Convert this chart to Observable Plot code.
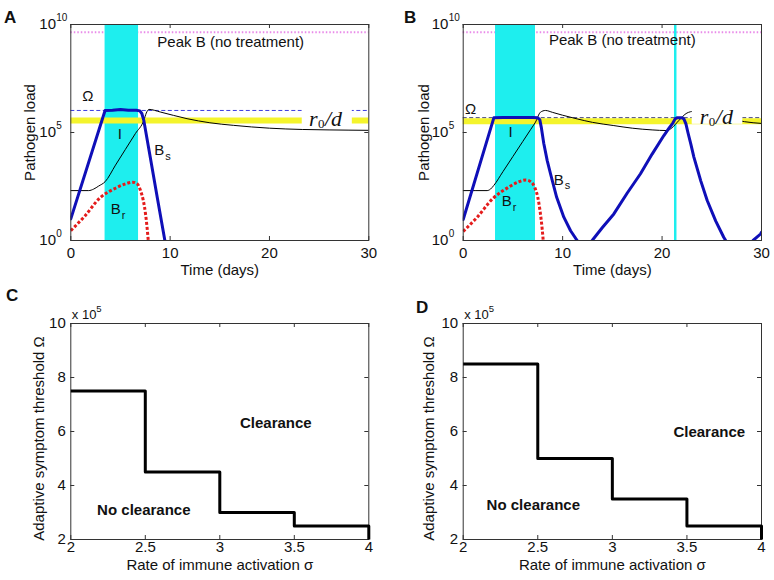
<!DOCTYPE html>
<html><head><meta charset="utf-8">
<script src="https://cdn.jsdelivr.net/npm/d3@7"></script>
<script src="https://cdn.jsdelivr.net/npm/@observablehq/plot@0.6"></script>
<style>
body{margin:0;background:#fff;}
#fig{position:relative;width:774px;height:580px;overflow:hidden;font-family:"Liberation Sans",Arial,sans-serif;color:#111;}
.panel{position:absolute;}
.letter{position:absolute;font-weight:bold;font-size:17px;line-height:1;}
</style></head><body><div id="fig"></div>
<script>
// ---------- shared ticks ----------
const dayTicks = [0, 10, 20, 30];
const loadTicks = [1, 1e5, 1e10];
const sigmaTicks = [2, 2.5, 3, 3.5, 4];
const omegaTicks = [2, 4, 6, 8, 10];

// ---------- Panel A (values are log10 of pathogen load) ----------
const aBsDay = [0, 3.45, 4.2, 5.0, 5.8, 6.6, 6.95, 7.15, 7.35, 8.0, 8.7, 9.47, 9.9];
const aBsLog = [1.0, 6.02, 6.03, 6.06, 6.03, 6.03, 6.0, 5.88, 5.56, 3.85, 2.0, 0, -1.0];
const aBrDay = [0, 1.35, 3.0, 4.5, 5.5, 6.2, 6.7, 7.02, 7.3, 7.52, 7.7, 7.85];
const aBrLog = [0.46, 1.1, 2.0, 2.42, 2.62, 2.7, 2.62, 2.31, 1.85, 1.24, 0.5, -0.3];
const aIDay = [0, 1.8, 2.3, 2.8, 3.45, 4.5, 5.5, 6.5, 7.35, 7.6, 7.87, 9, 11.7, 14, 16.4, 20, 23.3, 26, 30];
const aILog = [2.31, 2.31, 2.38, 2.52, 2.72, 3.49, 4.22, 4.95, 5.56, 5.9, 6.07, 5.95, 5.64, 5.45, 5.33, 5.2, 5.14, 5.12, 5.1];
const aPeakLog = 9.64, aOmegaLog = 6.02, aR0dLog = 5.56;
const aTreatment = [[3.45, 6.82]];
const aLabelText = ["Ω", "I", "B", "B"];
const aLabelSub = ["", "", "s", "r"];
const aLabelDay = [1.71, 4.93, 8.9, 4.52];
const aLabelLog = [6.67, 4.94, 4.18, 1.43];
const aPeakLabel = {day: 16.1, log: 9.19};
const aR0dLabel = {day: 23.97, log: 5.63};
const aR0dBox = {day1: 23.3, day2: 28.34, log1: 5.15, log2: 6.35};

// ---------- Panel B ----------
const bBsDay = [0, 3.08, 4, 5, 6, 7, 7.5, 7.7, 7.85, 8.1, 8.45, 8.78, 9.4, 10.12, 10.8, 11.46, 11.9, 12.2, 12.55, 12.97, 14, 15.15, 16.5, 17.83, 19, 20.18, 20.7, 21.1, 21.3, 21.5, 22.0, 22.2, 22.4, 22.6, 22.9, 23.2, 23.9, 24.54, 25.4, 26.2, 26.8, 27.3, 27.8, 28.2, 28.6, 29.15, 29.9, 30];
const bBsLog = [0.97, 5.68, 5.69, 5.7, 5.69, 5.69, 5.68, 5.6, 5.25, 4.5, 3.7, 3.09, 2.0, 1.08, 0.45, 0.0, -0.2, -0.28, -0.2, 0.0, 0.6, 1.23, 2.2, 3.09, 4.0, 4.86, 5.2, 5.45, 5.62, 5.68, 5.68, 5.62, 5.4, 5.0, 4.45, 3.86, 2.75, 1.85, 0.9, 0.15, -0.3, -0.55, -0.7, -0.65, -0.5, 0.0, 0.3, 0.38];
const bBrDay = [0, 1.35, 3.0, 4.5, 5.5, 6.3, 6.8, 7.2, 7.5, 7.75, 7.95, 8.1];
const bBrLog = [0.42, 1.05, 1.95, 2.45, 2.7, 2.8, 2.72, 2.45, 2.0, 1.3, 0.5, -0.3];
const bIDay = [0, 2.4, 2.75, 3.08, 4.0, 5.0, 6.0, 6.8, 7.27, 7.77, 8.27, 9, 10, 11.46, 13, 15.15, 17, 19, 20.5, 21.0, 21.7, 22.5, 23.2, 24, 26, 28.3, 30];
const bILog = [2.31, 2.31, 2.38, 2.55, 3.19, 3.89, 4.59, 5.15, 5.48, 5.94, 6.02, 5.93, 5.8, 5.63, 5.47, 5.32, 5.2, 5.12, 5.09, 5.22, 5.56, 5.9, 5.98, 5.98, 5.75, 5.5, 5.42];
const bPeakLog = 9.64, bOmegaLog = 5.68, bR0dLog = 5.52;
const bTreatment = [[3.25, 7.27], [21.25, 21.5]];
const bLabelText = ["Ω", "I", "B", "B"];
const bLabelSub = ["", "", "s", "r"];
const bLabelDay = [0.74, 4.76, 9.6, 4.37];
const bLabelLog = [6.1, 5.01, 2.81, 1.81];
const bPeakLabel = {day: 16.0, log: 9.26};
const bR0dLabel = {day: 23.8, log: 5.74};
const bR0dBox = {day1: 23.03, day2: 28.12, log1: 5.38, log2: 6.3};

// ---------- Panels C and D ----------
const sigma = [2, 2.5, 3, 3.5, 4, 4];
const omegaC = [7.5, 4.5, 3, 2.5, 2.5, 2];
const omegaD = [8.5, 5, 3.5, 2.5, 2.5, 2];
const cClear = {s: 3.376, o: 6.31}, cNoClear = {s: 2.49, o: 3.07};
const dClear = {s: 3.65, o: 5.98}, dNoClear = {s: 2.47, o: 3.26};

const FONT = '"Liberation Sans", Arial, sans-serif';
const SERIF = '"Liberation Serif", "DejaVu Serif", serif';
const pts = (ds, ls) => ds.map((d, i) => ({t: d, v: 10 ** ls[i]}));

function loadPanel(c) {
  const W = 387, H = 280, mt = 24, mb = 40;
  const iw = W - c.ml - c.mr, ih = H - mt - mb;
  const labels = c.text.map((s, i) => ({s, sub: c.sub[i], t: c.day[i], v: 10 ** c.log[i]}));
  return Plot.plot({
    width: W, height: H, marginLeft: c.ml, marginRight: c.mr, marginTop: mt, marginBottom: mb,
    style: {fontFamily: FONT, fontSize: "15px", color: "#111", background: "white", overflow: "visible"},
    x: {domain: [0, 30], ticks: dayTicks, tickSize: 0, tickPadding: 7, label: null},
    y: {type: "log", domain: [1, 1e10], axis: null},
    marks: [
      Plot.ruleY([10 ** c.peak], {stroke: "#e98be9", strokeWidth: 2, strokeDasharray: "1.5,2", strokeLinecap: "butt"}),
      Plot.rect(c.treat, {x1: d => d[0], x2: d => d[1], fill: "#1eeeee"}),
      Plot.ruleY([10 ** c.omega], {stroke: c.omegaColor, strokeWidth: 1, strokeDasharray: "4,2.5", strokeLinecap: "butt"}),
      Plot.ruleY([10 ** c.r0d], {stroke: "#f4f42c", strokeWidth: 6}),
      Plot.line(pts(c.iDay, c.iLog), {x: "t", y: "v", stroke: "#000", strokeWidth: 1, curve: "monotone-x", clip: true}),
      Plot.line(pts(c.bsDay, c.bsLog), {x: "t", y: "v", stroke: "#0f0fb8", strokeWidth: 3, curve: "linear", clip: true}),
      Plot.line(pts(c.brDay, c.brLog), {x: "t", y: "v", stroke: "#e41c1c", strokeWidth: 3, strokeDasharray: "3,2", strokeLinecap: "butt", curve: "monotone-x", clip: true}),
      Plot.rect([c.box], {x1: "day1", x2: "day2", y1: d => 10 ** d.log1, y2: d => 10 ** d.log2, fill: "white"}),
      Plot.text([c.r0dLabel], {x: "day", y: d => 10 ** d.log, text: () => "r", fontFamily: SERIF, fontStyle: "italic", fontSize: 22, textAnchor: "start"}),
      Plot.text([c.r0dLabel], {x: "day", y: d => 10 ** d.log, text: () => "0", fontFamily: SERIF, fontSize: 13, textAnchor: "start", dx: 9, dy: 5}),
      Plot.text([c.r0dLabel], {x: "day", y: d => 10 ** d.log, text: () => "/d", fontFamily: SERIF, fontStyle: "italic", fontSize: 22, textAnchor: "start", dx: 16}),
      Plot.text([c.peakLabel], {x: "day", y: d => 10 ** d.log, text: () => "Peak B (no treatment)", fontSize: 15}),
      Plot.text(labels, {x: "t", y: "v", text: "s", fontSize: 15}),
      Plot.text(labels, {x: "t", y: "v", text: "sub", fontSize: 11, textAnchor: "start", dx: 6, dy: 6}),
      // inward ticks on all four sides
      Plot.tickX(dayTicks, {x: d => d, insetTop: ih - 4, stroke: "#333"}),
      Plot.tickX(dayTicks, {x: d => d, insetBottom: ih - 4, stroke: "#333"}),
      Plot.tickY(loadTicks, {y: d => d, insetRight: iw - 4, stroke: "#333"}),
      Plot.tickY(loadTicks, {y: d => d, insetLeft: iw - 4, stroke: "#333"}),
      Plot.frame({stroke: "#333"}),
      // log tick labels 10^n
      Plot.text(loadTicks, {y: d => d, text: () => "10", frameAnchor: "left", textAnchor: "start", lineAnchor: "middle", dx: -31.5, fontSize: 15}),
      Plot.text(loadTicks, {y: d => d, text: d => String(Math.round(Math.log10(d))), frameAnchor: "left", textAnchor: "start", lineAnchor: "middle", dx: -14.5, dy: -7, fontSize: 10}),
      // axis titles
      Plot.text(["Time (days)"], {frameAnchor: "bottom", text: d => d, textAnchor: "middle", lineAnchor: "middle", dy: 30, fontSize: 15}),
      Plot.text(["Pathogen load"], {frameAnchor: "left", text: d => d, textAnchor: "middle", lineAnchor: "middle", rotate: -90, dx: c.ylabDx, fontSize: 15})
    ]
  });
}

function thresholdPanel(c) {
  const W = 387, H = 300, mt = 43, mb = 41;
  const iw = W - c.ml - c.mr, ih = H - mt - mb;
  const rows = sigma.map((s, i) => ({s, o: c.omega[i]}));
  return Plot.plot({
    width: W, height: H, marginLeft: c.ml, marginRight: c.mr, marginTop: mt, marginBottom: mb,
    style: {fontFamily: FONT, fontSize: "15px", color: "#111", background: "white", overflow: "visible"},
    x: {domain: [2, 4], ticks: sigmaTicks, tickFormat: d => String(d), tickSize: 0, tickPadding: 2, label: null},
    y: {domain: [2, 10], ticks: omegaTicks, tickFormat: d => String(d), tickSize: 0, tickPadding: 5, label: null},
    marks: [
      Plot.tickX(sigmaTicks, {x: d => d, insetTop: ih - 4, stroke: "#333"}),
      Plot.tickX(sigmaTicks, {x: d => d, insetBottom: ih - 4, stroke: "#333"}),
      Plot.tickY(omegaTicks, {y: d => d, insetRight: iw - 4, stroke: "#333"}),
      Plot.tickY(omegaTicks, {y: d => d, insetLeft: iw - 4, stroke: "#333"}),
      Plot.frame({stroke: "#333"}),
      Plot.line(rows, {x: "s", y: "o", curve: "step-after", stroke: "#000", strokeWidth: 3, strokeLinecap: "butt"}),
      Plot.text([c.clear], {x: "s", y: "o", text: () => "Clearance", fontWeight: "bold", fontSize: 15}),
      Plot.text([c.noClear], {x: "s", y: "o", text: () => "No clearance", fontWeight: "bold", fontSize: 15}),
      Plot.text(["x 10"], {frameAnchor: "top-left", text: d => d, textAnchor: "start", lineAnchor: "middle", dx: 1, dy: -9, fontSize: 13}),
      Plot.text(["5"], {frameAnchor: "top-left", text: d => d, textAnchor: "start", lineAnchor: "middle", dx: 25.5, dy: -15, fontSize: 9.5}),
      Plot.text(["Rate of immune activation σ"], {frameAnchor: "bottom", text: d => d, textAnchor: "middle", lineAnchor: "middle", dy: 26, fontSize: 15}),
      Plot.text(["Adaptive symptom threshold Ω"], {frameAnchor: "left", text: d => d, textAnchor: "middle", lineAnchor: "middle", rotate: -90, dx: c.ylabDx, dy: 7, fontSize: 15})
    ]
  });
}

const fig = document.getElementById("fig");
function place(el, left, top) {
  const w = document.createElement("div");
  w.className = "panel"; w.style.left = left + "px"; w.style.top = top + "px";
  w.appendChild(el); fig.appendChild(w);
}
function letter(t, left, top) {
  const d = document.createElement("div");
  d.className = "letter"; d.textContent = t;
  d.style.left = left + "px"; d.style.top = top + "px";
  fig.appendChild(d);
}

place(loadPanel({
  ml: 70.3, mr: 18.7, ylabDx: -40.3, omegaColor: "#3c3ce0",
  bsDay: aBsDay, bsLog: aBsLog, brDay: aBrDay, brLog: aBrLog, iDay: aIDay, iLog: aILog,
  peak: aPeakLog, omega: aOmegaLog, r0d: aR0dLog, treat: aTreatment,
  text: aLabelText, sub: aLabelSub, day: aLabelDay, log: aLabelLog,
  peakLabel: aPeakLabel, r0dLabel: aR0dLabel, box: aR0dBox
}), 0, 0);
place(loadPanel({
  ml: 75.7, mr: 13, ylabDx: -39.4, omegaColor: "#1c1c5c",
  bsDay: bBsDay, bsLog: bBsLog, brDay: bBrDay, brLog: bBrLog, iDay: bIDay, iLog: bILog,
  peak: bPeakLog, omega: bOmegaLog, r0d: bR0dLog, treat: bTreatment,
  text: bLabelText, sub: bLabelSub, day: bLabelDay, log: bLabelLog,
  peakLabel: bPeakLabel, r0dLabel: bR0dLabel, box: bR0dBox
}), 387, 0);
place(thresholdPanel({ml: 70.3, mr: 18.7, ylabDx: -32, omega: omegaC, clear: cClear, noClear: cNoClear}), 0, 280);
place(thresholdPanel({ml: 75.7, mr: 13, ylabDx: -34.4, omega: omegaD, clear: dClear, noClear: dNoClear}), 387, 280);

letter("A", 4, 9);
letter("B", 404, 9);
letter("C", 6, 287);
letter("D", 416, 299);
</script></body></html>
